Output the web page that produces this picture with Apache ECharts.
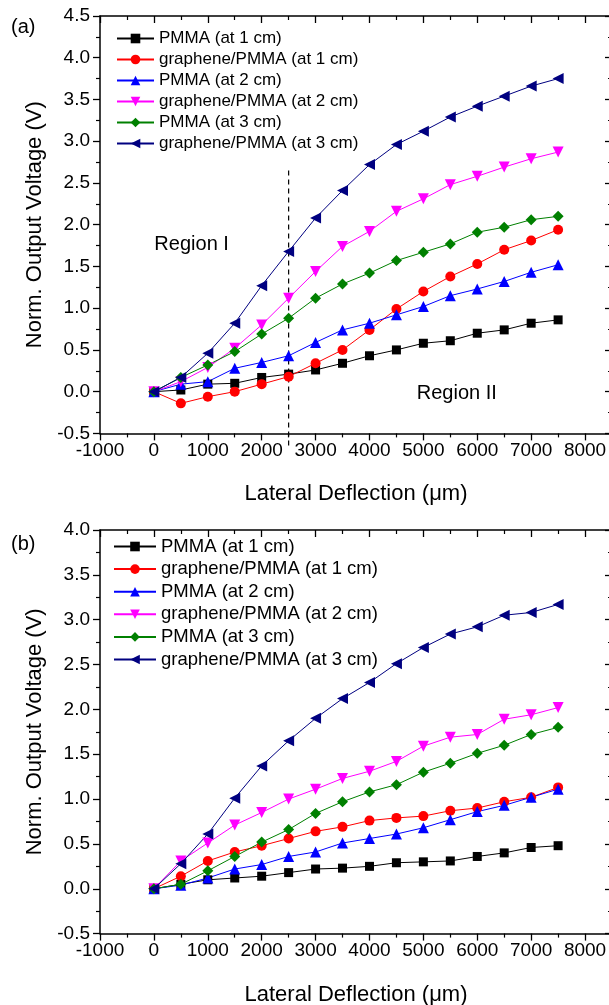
<!DOCTYPE html>
<html>
<head>
<meta charset="utf-8">
<script src="https://cdn.jsdelivr.net/npm/echarts@6/dist/echarts.min.js"></script>
<style>html,body{margin:0;padding:0;background:#fff}#c{width:609px;height:1005px}</style>
</head>
<body>
<div id="c"></div>
<script>
// ---- data ----
const deflection = [0,500,1000,1500,2000,2500,3000,3500,4000,4500,5000,5500,6000,6500,7000,7500];
const seriesNames = ['PMMA (at 1 cm)','graphene/PMMA (at 1 cm)','PMMA (at 2 cm)','graphene/PMMA (at 2 cm)','PMMA (at 3 cm)','graphene/PMMA (at 3 cm)'];
// panel (a)
const a_pmma1 = [0,0.02,0.09,0.10,0.17,0.21,0.26,0.34,0.43,0.50,0.58,0.61,0.70,0.74,0.82,0.86];
const a_gr1   = [0,-0.14,-0.06,0.00,0.09,0.18,0.34,0.50,0.74,0.99,1.20,1.38,1.53,1.70,1.81,1.94];
const a_pmma2 = [0,0.09,0.12,0.28,0.35,0.43,0.59,0.74,0.82,0.92,1.02,1.15,1.23,1.32,1.43,1.52];
const a_gr2   = [0,0.12,0.29,0.52,0.80,1.12,1.44,1.74,1.92,2.16,2.31,2.48,2.58,2.69,2.79,2.87];
const a_pmma3 = [0,0.17,0.32,0.48,0.69,0.88,1.12,1.29,1.42,1.57,1.67,1.77,1.91,1.97,2.06,2.10];
const a_gr3   = [0,0.17,0.46,0.82,1.27,1.68,2.08,2.41,2.72,2.96,3.12,3.29,3.42,3.54,3.66,3.75];
// panel (b)
const b_pmma1 = [0,0.05,0.10,0.12,0.14,0.18,0.22,0.23,0.25,0.29,0.30,0.31,0.36,0.40,0.46,0.48];
const b_gr1   = [0,0.14,0.31,0.41,0.48,0.56,0.64,0.69,0.76,0.79,0.81,0.87,0.90,0.97,1.02,1.13];
const b_pmma2 = [0,0.04,0.12,0.22,0.27,0.36,0.41,0.51,0.56,0.61,0.68,0.77,0.86,0.93,1.02,1.11];
const b_gr2   = [0,0.31,0.51,0.71,0.85,1.00,1.11,1.23,1.31,1.42,1.59,1.69,1.72,1.89,1.94,2.02];
const b_pmma3 = [0,0.05,0.20,0.36,0.52,0.66,0.84,0.97,1.08,1.16,1.30,1.40,1.51,1.60,1.72,1.80];
const b_gr3   = [0,0.28,0.61,1.01,1.37,1.65,1.90,2.12,2.30,2.51,2.69,2.84,2.92,3.05,3.08,3.17];
// region divider (panel a)
const dividerX = 2500;
const dividerY = [2.65, -0.66];
const regionLabels = [{text:'Region I', x:700, y:1.76},{text:'Region II', x:5620, y:-0.02}];
// axis setup
const xRange = [-1000, 8500], xStep = 1000;
const yRangeA = [-0.5, 4.5], yRangeB = [-0.5, 4.0], yStep = 0.5;

// ---- styles ----
const FONT = "'Liberation Sans', Arial, sans-serif";
const colors = ['#000000','#ff0000','#0000ff','#ff00ff','#008000','#000080'];
const symbols = ['rect','circle','triangle','triangle','diamond','triangle'];
const rotates = [0,0,0,180,0,90];
const sizes = [9,10,11,11,11,11];

function mkX(gi, pos, labels, name){
  return {
    type:'value', gridIndex:gi, position:pos, min:xRange[0], max:xRange[1], interval:xStep,
    name: name||'', nameLocation:'middle', nameGap:50,
    nameTextStyle:{fontFamily:FONT, fontSize:22, color:'#000'},
    axisLine:{show:true, onZero:false, lineStyle:{color:'#000', width:1.5}},
    axisTick:{show:true, inside:pos==='top', length:7, lineStyle:{color:'#000', width:1.3}},
    minorTick:{show:true, splitNumber:2, length:4, lineStyle:{color:'#000', width:1.2}},
    axisLabel:{show:labels, margin:8, fontFamily:FONT, fontSize:19, color:'#000', formatter:v=>String(v)},
    splitLine:{show:false}
  };
}
function mkY(gi, pos, range, labels, name){
  return {
    type:'value', gridIndex:gi, position:pos, min:range[0], max:range[1], interval:yStep,
    name: name||'', nameLocation:'middle', nameGap:48,
    nameTextStyle:{fontFamily:FONT, fontSize:22, color:'#000'},
    axisLine:{show:true, onZero:false, lineStyle:{color:'#000', width:1.5}},
    axisTick:{show:true, inside:pos==='right', length:7, lineStyle:{color:'#000', width:1.3}},
    minorTick:{show:true, splitNumber:2, length:4, lineStyle:{color:'#000', width:1.2}},
    axisLabel:{show:labels, margin:10, fontFamily:FONT, fontSize:19, color:'#000', formatter:v=>v.toFixed(1)},
    splitLine:{show:false}
  };
}
function mkSeries(vals, i, xi, yi){
  return {
    type:'line', name:seriesNames[i], xAxisIndex:xi, yAxisIndex:yi,
    data: deflection.map((x,k)=>[x, vals[k]]),
    symbol:symbols[i], symbolRotate:rotates[i], symbolSize:sizes[i], showAllSymbol:true,
    lineStyle:{color:colors[i], width:1}, itemStyle:{color:colors[i]},
    animation:false, silent:true
  };
}

const chart = echarts.init(document.getElementById('c'), null, {renderer:'canvas'});
const A = [a_pmma1,a_gr1,a_pmma2,a_gr2,a_pmma3,a_gr3];
const B = [b_pmma1,b_gr1,b_pmma2,b_gr2,b_pmma3,b_gr3];
const series = [];
A.forEach((v,i)=>series.push(mkSeries(v,i,0,0)));
B.forEach((v,i)=>series.push(mkSeries(v,i,2,2)));
series.push({
  type:'line', name:'divider', xAxisIndex:0, yAxisIndex:0, clip:false,
  data: dividerY.map(y=>[dividerX,y]), symbol:'none',
  lineStyle:{color:'#000', width:1.2, type:[5,4]}, silent:true, animation:false, z:1,
  markPoint:{
    symbol:'circle', symbolSize:1, itemStyle:{color:'rgba(0,0,0,0)'}, silent:true, animation:false,
    label:{show:true, position:'inside', fontFamily:FONT, fontSize:20, color:'#000', formatter:p=>p.name},
    data: regionLabels.map(r=>({name:r.text, coord:[r.x, r.y]}))
  }
});

chart.setOption({
  animation:false,
  backgroundColor:'#fff',
  title:[
    {text:'(a)', left:6, top:12, textStyle:{fontFamily:FONT, fontSize:20, fontWeight:'normal', color:'#000'}},
    {text:'(b)', left:6, top:529, textStyle:{fontFamily:FONT, fontSize:20, fontWeight:'normal', color:'#000'}}
  ],
  grid:[
    {left:100, top:16, width:512, height:417.4, outerBoundsMode:'none', containLabel:false},
    {left:100, top:530, width:512, height:403.6, outerBoundsMode:'none', containLabel:false}
  ],
  xAxis:[ mkX(0,'bottom',true,'Lateral Deflection (\u03bcm)'), mkX(0,'top',false), mkX(1,'bottom',true,'Lateral Deflection (\u03bcm)'), mkX(1,'top',false) ],
  yAxis:[ mkY(0,'left',yRangeA,true,'Norm. Output Voltage (V)'), mkY(0,'right',yRangeA,false), mkY(1,'left',yRangeB,true,'Norm. Output Voltage (V)'), mkY(1,'right',yRangeB,false) ],
  legend:[
    {data:seriesNames, orient:'vertical', left:116, top:30, padding:0, itemWidth:37, itemHeight:12, itemGap:4,
     textStyle:{fontFamily:FONT, fontSize:17, color:'#000'}, selectedMode:false},
    {data:seriesNames, orient:'vertical', left:113, top:537, padding:0, itemWidth:42, itemHeight:12, itemGap:3.6,
     textStyle:{fontFamily:FONT, fontSize:18.5, color:'#000'}, selectedMode:false}
  ],
  series: series
});
</script>
</body>
</html>
